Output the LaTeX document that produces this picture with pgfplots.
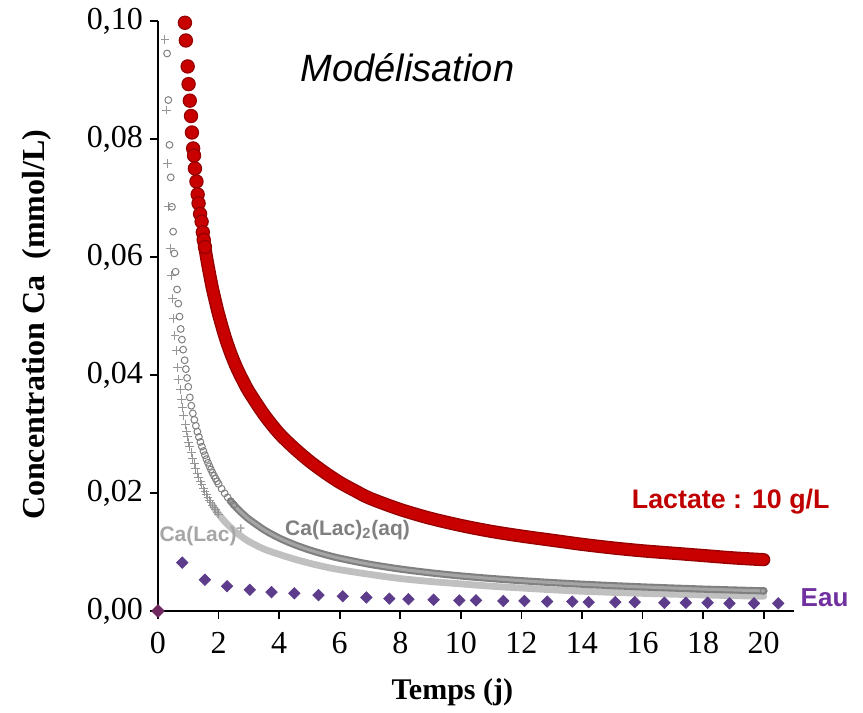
\documentclass[border=0pt]{standalone}
\usepackage{fontspec}
\setmainfont{Liberation Serif}
\newfontfamily\arial{Liberation Sans}
\usepackage{pgfplots}
\pgfplotsset{compat=1.18}
\definecolor{redfill}{RGB}{200,0,0}
\definecolor{rededge}{RGB}{150,0,0}
\definecolor{circgray}{RGB}{128,128,128}
\definecolor{circlight}{RGB}{165,165,165}
\definecolor{plusgray}{RGB}{150,150,150}
\definecolor{pluslight}{RGB}{192,192,192}
\definecolor{eaufill}{RGB}{94,60,140}
\definecolor{eautext}{RGB}{112,48,160}
\definecolor{origfill}{RGB}{110,40,95}
\definecolor{lacred}{RGB}{192,0,0}
\definecolor{labgray}{RGB}{166,166,166}
\begin{document}
\begin{tikzpicture}
\begin{axis}[name=ax, scale only axis, width=318pt, height=295pt,
  xmin=0, xmax=21, ymin=0, ymax=0.1,
  axis lines=left, axis line style={-, line width=0.8pt, black},
  xtick={0,2,4,6,8,10,12,14,16,18,20},
  ytick={0,0.02,0.04,0.06,0.08,0.1},
  scaled y ticks=false,
  tick align=outside, major tick length=4pt, tick style={line width=0.8pt, black},
  y tick label style={/pgf/number format/fixed, /pgf/number format/fixed zerofill,
    /pgf/number format/precision=2, /pgf/number format/use comma},
  x tick label style={yshift=-3pt},
  /pgf/number format/assume math mode=true,
  tick label style={font=\fontsize{16}{19}\selectfont},
  clip=false]

% Ca(Lac)+ : band
\addplot[smooth, line width=3.4pt, pluslight, line cap=round] coordinates {
(1.8,0.01791)(1.9,0.01713)(2.0,0.01643)(2.2,0.01519)(2.4,0.01415)(2.6,0.01325)(2.8,0.01247)(3.0,0.01178)(3.5,0.0105)(4,0.0096)(4.5,0.0088)(5,0.0081)(5.5,0.0075)(6,0.0070)(7,0.0062)(8,0.0055)(9,0.0050)(10,0.0046)(11,0.0042)(12,0.0039)(13,0.0036)(14,0.00335)(15,0.00316)(16,0.00299)(17,0.00285)(18,0.00272)(19,0.0026)(20,0.0025)};
% Ca(Lac)+ : marks
\addplot[only marks, mark=+, mark size=2.2pt, mark options={draw=plusgray, line width=0.5pt}] coordinates {
(0.23,0.0968)(0.27,0.0849)(0.31,0.0758)(0.35,0.0686)(0.40,0.0615)(0.44,0.0569)(0.48,0.0529)(0.52,0.0496)(0.56,0.0467)(0.60,0.0441)(0.65,0.0413)(0.69,0.0393)(0.73,0.0375)(0.77,0.0359)(0.81,0.0345)(0.85,0.0331)(0.90,0.0316)(0.94,0.0305)(0.98,0.0295)(1.02,0.0285)(1.05,0.02786)(1.10,0.02682)(1.15,0.02586)(1.20,0.02497)(1.25,0.02415)(1.30,0.02339)(1.35,0.02267)(1.40,0.02201)(1.45,0.02138)(1.50,0.02080)(1.55,0.02024)(1.60,0.01973)(1.65,0.01923)(1.70,0.01877)(1.75,0.01833)(1.80,0.01791)(1.85,0.01751)(1.90,0.01713)(1.95,0.01677)(2.00,0.01643)};

% Ca(Lac)2(aq) : band
\addplot[smooth, line width=3.6pt, circgray, line cap=round] coordinates {
(2.4,0.01862)(2.5,0.01802)(2.6,0.01746)(2.7,0.01694)(2.8,0.01646)(2.9,0.01600)(3.0,0.01557)(3.5,0.01377)(4,0.01237)(4.5,0.01126)(5,0.01035)(5.5,0.00959)(6,0.00894)(7,0.00791)(8,0.00711)(9,0.00647)(10,0.00594)(11,0.00551)(12,0.00514)(13,0.00482)(14,0.00454)(15,0.00430)(16,0.00408)(17,0.00389)(18,0.00371)(19,0.00356)(20,0.00341)};
\addplot[smooth, line width=1.5pt, circlight, line cap=round] coordinates {
(2.4,0.01862)(2.5,0.01802)(2.6,0.01746)(2.7,0.01694)(2.8,0.01646)(2.9,0.01600)(3.0,0.01557)(3.5,0.01377)(4,0.01237)(4.5,0.01126)(5,0.01035)(5.5,0.00959)(6,0.00894)(7,0.00791)(8,0.00711)(9,0.00647)(10,0.00594)(11,0.00551)(12,0.00514)(13,0.00482)(14,0.00454)(15,0.00430)(16,0.00408)(17,0.00389)(18,0.00371)(19,0.00356)(20,0.00341)};
% Ca(Lac)2(aq) : marks
\addplot[only marks, mark=o, mark size=1.7pt, mark options={draw=circgray, line width=0.5pt}] coordinates {
(0.30,0.0945)(0.34,0.0866)(0.38,0.0790)(0.42,0.0735)(0.46,0.0685)(0.50,0.0643)(0.54,0.0606)(0.58,0.0575)(0.63,0.0545)(0.67,0.0521)(0.71,0.0499)(0.75,0.0478)(0.79,0.0460)(0.83,0.0443)(0.88,0.0425)(0.92,0.0410)(0.96,0.0395)(1.00,0.0380)(1.05,0.0362)(1.10,0.0348)(1.15,0.0335)(1.20,0.0324)(1.25,0.0314)(1.30,0.0304)(1.35,0.0295)(1.40,0.02865)(1.45,0.02786)(1.50,0.02711)(1.55,0.02641)(1.60,0.02575)(1.65,0.02512)(1.70,0.02453)(1.75,0.02397)(1.80,0.02343)(1.85,0.02292)(1.90,0.02244)(1.95,0.02198)(2.00,0.02154)(2.1,0.02072)(2.2,0.01996)(2.3,0.01926)(2.4,0.01862)(2.5,0.01802)(20,0.00341)};

% Lactate 10 g/L : band
\addplot[smooth, line width=6.6pt, rededge, line cap=round] coordinates {
(1.50,0.0632)(1.6,0.0600)(1.7,0.0572)(1.8,0.0546)(1.9,0.0524)(2.0,0.0503)(2.2,0.0467)(2.4,0.0437)(2.6,0.0412)(2.8,0.0391)(3.0,0.0372)(3.5,0.0333)(4.0,0.0301)(4.5,0.0276)(5.0,0.0254)(5.5,0.0235)(6.0,0.0218)(6.5,0.0204)(7,0.0191)(8,0.0172)(9,0.0157)(10,0.0145)(11,0.0135)(12,0.0127)(13,0.0120)(14,0.0113)(15,0.0107)(16,0.0102)(17,0.0098)(18,0.0094)(19,0.0090)(20,0.0087)};
\addplot[smooth, line width=5.2pt, redfill, line cap=round] coordinates {
(1.50,0.0632)(1.6,0.0600)(1.7,0.0572)(1.8,0.0546)(1.9,0.0524)(2.0,0.0503)(2.2,0.0467)(2.4,0.0437)(2.6,0.0412)(2.8,0.0391)(3.0,0.0372)(3.5,0.0333)(4.0,0.0301)(4.5,0.0276)(5.0,0.0254)(5.5,0.0235)(6.0,0.0218)(6.5,0.0204)(7,0.0191)(8,0.0172)(9,0.0157)(10,0.0145)(11,0.0135)(12,0.0127)(13,0.0120)(14,0.0113)(15,0.0107)(16,0.0102)(17,0.0098)(18,0.0094)(19,0.0090)(20,0.0087)};
% Lactate : marks
\addplot[only marks, mark=*, mark size=3.3pt, mark options={draw=rededge, fill=redfill, line width=0.6pt}] coordinates {
(0.89,0.0997)(0.92,0.0967)(0.98,0.0923)(1.01,0.0893)(1.05,0.0865)(1.09,0.0839)(1.12,0.0811)(1.16,0.0784)(1.19,0.0772)(1.22,0.0750)(1.27,0.0728)(1.31,0.0706)(1.34,0.0691)(1.39,0.0673)(1.44,0.0660)(1.48,0.0642)(1.51,0.0629)(1.55,0.0617)};

% Eau
\addplot[only marks, mark=square*, mark size=2pt, mark options={rotate=45, fill=eaufill, draw=eaufill}] coordinates {
(0.8,0.0082)(1.55,0.0053)(2.28,0.0042)(3.03,0.0036)(3.75,0.0032)(4.5,0.0030)(5.3,0.0027)(6.1,0.0025)(6.88,0.0023)(7.64,0.0021)(8.27,0.0020)(9.1,0.0019)(9.95,0.0018)(10.5,0.0018)(11.4,0.0017)(12.1,0.0017)(12.85,0.0016)(13.68,0.0016)(14.22,0.0015)(15.1,0.0015)(15.74,0.0015)(16.72,0.0014)(17.43,0.0014)(18.15,0.0014)(18.87,0.0013)(19.68,0.0013)(20.48,0.0013)};
\addplot[only marks, mark=square*, mark size=2.2pt, mark options={rotate=45, fill=origfill, draw=origfill}] coordinates {(0,0)};

% texts
\node[font=\arial\itshape\fontsize{19}{22}\selectfont] at (axis cs:8.24,0.092) {Modélisation};
\node[font=\arial\bfseries\fontsize{13.4}{16}\selectfont, text=lacred] at (axis cs:18.91,0.01847) {Lactate : 10 g/L};
\node[font=\arial\bfseries\fontsize{13}{16}\selectfont, text=eautext] at (axis cs:22.01,0.0022) {Eau};
\node[font=\arial\bfseries\fontsize{10.5}{13}\selectfont, text=circgray] at (axis cs:6.26,0.01373) {Ca(Lac)\textsubscript{2}(aq)};
\node[font=\arial\bfseries\fontsize{10.5}{13}\selectfont, text=labgray] at (axis cs:1.48,0.0129) {Ca(Lac)\textsuperscript{+}};
\node[rotate=90, font=\bfseries\fontsize{16}{19}\selectfont] at (axis cs:-4.0,0.0485) {Concentration Ca\ \ (mmol/L)};
\node[font=\bfseries\fontsize{15}{18}\selectfont] at (axis cs:9.72,-0.01373) {Temps (j)};
\end{axis}
\path ([shift={(-79pt,-50.5pt)}]ax.south west) rectangle ([shift={(34.5pt,10.5pt)}]ax.north east);
\end{tikzpicture}
\end{document}
